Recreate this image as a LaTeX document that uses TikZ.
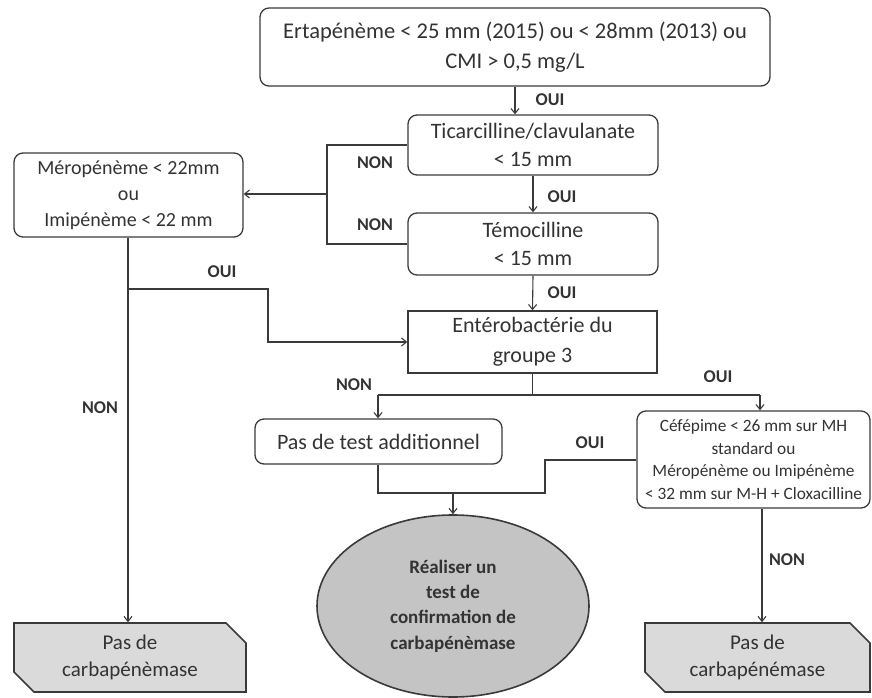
\documentclass[tikz,border=0pt]{standalone}
\usepackage{fontspec}
\setmainfont{Carlito}
\usetikzlibrary{shapes.geometric,shapes.misc,arrows.meta}
\definecolor{linec}{HTML}{3A3A3A}
\definecolor{txt}{HTML}{333333}
\definecolor{boxg}{HTML}{DADADA}
\definecolor{ellg}{HTML}{C4C4C4}
\begin{document}
\begin{tikzpicture}[x=1pt,y=-1pt,
  line/.style={draw=linec, line width=1.1pt},
  arr/.style={line, -{Straight Barb[length=5pt,width=8pt]}},
  rbox/.style={draw=linec, line width=1.3pt, rounded corners=9pt, align=center, inner sep=0pt, text=txt},
  sbox/.style={draw=linec, line width=1.3pt, align=center, inner sep=0pt, text=txt},
  gbox/.style={chamfered rectangle, chamfered rectangle corners={north east,south west},
    chamfered rectangle xsep=10pt, chamfered rectangle ysep=10pt,
    draw=linec, line width=1.6pt, fill=boxg, align=center, inner sep=0pt, text=txt,
    font=\fontsize{21}{27}\selectfont},
  lab/.style={text=txt, inner sep=0pt, font=\bfseries\fontsize{18}{20}\selectfont}
]
\useasboundingbox (0,0) rectangle (872,698);

% boxes
\node[rbox, minimum width=510pt, minimum height=78pt, font=\fontsize{22.5}{30}\selectfont] (top) at (515,47)
  {Ertapénème < 25 mm (2015) ou < 28mm (2013) ou\\CMI > 0,5 mg/L};
\node[rbox, minimum width=250pt, minimum height=60pt, font=\fontsize{22}{28}\selectfont] (tic) at (533,145)
  {Ticarcilline/clavulanate\\< 15 mm};
\node[rbox, minimum width=250pt, minimum height=62pt, font=\fontsize{22}{28}\selectfont] (temo) at (533,244)
  {Témocilline\\< 15 mm};
\node[sbox, minimum width=249pt, minimum height=62pt, font=\fontsize{22}{30}\selectfont] (entero) at (532.5,342)
  {Entérobactérie du\\groupe 3};
\node[rbox, minimum width=229pt, minimum height=84pt, font=\fontsize{20}{26}\selectfont] (mero) at (128.5,195)
  {Méropénème < 22mm\\ou\\Imipénème < 22 mm};
\node[rbox, minimum width=247pt, minimum height=45pt, font=\fontsize{22}{28}\selectfont] (pas) at (378.5,441.5)
  {Pas de test additionnel};
\node[rbox, minimum width=233pt, minimum height=97pt, font=\fontsize{17.3}{22.5}\selectfont] (cefe) at (753.5,459.5)
  {Céfépime < 26 mm sur MH\\standard ou\\Méropénème ou Imipénème\\< 32 mm sur M-H + Cloxacilline};
\node[ellipse, draw=linec, line width=1.6pt, fill=ellg, minimum width=272pt, minimum height=182pt, inner sep=0pt,
  align=center, text=txt, font=\bfseries\fontsize{19}{25.3}\selectfont] (conf) at (453,606)
  {Réaliser un\\test de\\confirmation de\\carbapénèmase};
\node[gbox, minimum width=232pt, minimum height=69pt] (nocl) at (130,657.5) {Pas de\\carbapénèmase};
\node[gbox, minimum width=225pt, minimum height=69pt] (nocr) at (757.5,657.5) {Pas de\\carbapénémase};

% junction coordinates
\coordinate (jt) at (327,145);
\coordinate (jb) at (327,244);
\coordinate (j1) at (327,194);
\coordinate (b1) at (128,289);
\coordinate (b2) at (268,289);
\coordinate (b3) at (268,342);
\coordinate (e1) at (532.5,395);
\coordinate (eL) at (378,395);
\coordinate (eR) at (760,395);
\coordinate (m0) at (453,493);
\coordinate (mL) at (378,493);
\coordinate (c1) at (545,460);
\coordinate (c2) at (545,493);

% connectors
\draw[arr] (top.south -| 515,0) -- (515,0 |- tic.north);
\draw[arr] (tic.south) -- (temo.north);
\draw[arr] (temo.south) -- (entero.north);
\draw[line] (tic.west) -- (jt) -- (jb) -- (temo.west);
\draw[arr] (j1) -- (j1 -| mero.east);
\draw[arr] (128,0 |- mero.south) -- (128,0 |- nocl.north);
\draw[arr] (b1) -- (b2) -- (b3) -- (entero.west);
\draw[line] (entero.south) -- (e1);
\draw[line] (eL) -- (eR);
\draw[arr] (eL) -- (eL |- pas.north);
\draw[arr] (eR) -- (eR |- cefe.north);
\draw[line] (mL |- pas.south) -- (mL) -- (m0);
\draw[line] (c1 -| cefe.west) -- (c1) -- (c2) -- (m0);
\draw[arr] (m0) -- (conf.north);
\draw[arr] (762,0 |- cefe.south) -- (762,0 |- nocr.north);

% labels
\node[lab] (o1) at (550,100) {OUI};
\node[lab] (o2) at (562,197) {OUI};
\node[lab] (o3) at (562,293) {OUI};
\node[lab] (n1) at (375,163) {NON};
\node[lab] (n2) at (375,225) {NON};
\node[lab] (o4) at (222,272) {OUI};
\node[lab] (n3) at (100,408) {NON};
\node[lab] (n4) at (354,385) {NON};
\node[lab] (o5) at (718,377) {OUI};
\node[lab] (o6) at (590,443) {OUI};
\node[lab] (n5) at (787,560) {NON};
\end{tikzpicture}
\end{document}
